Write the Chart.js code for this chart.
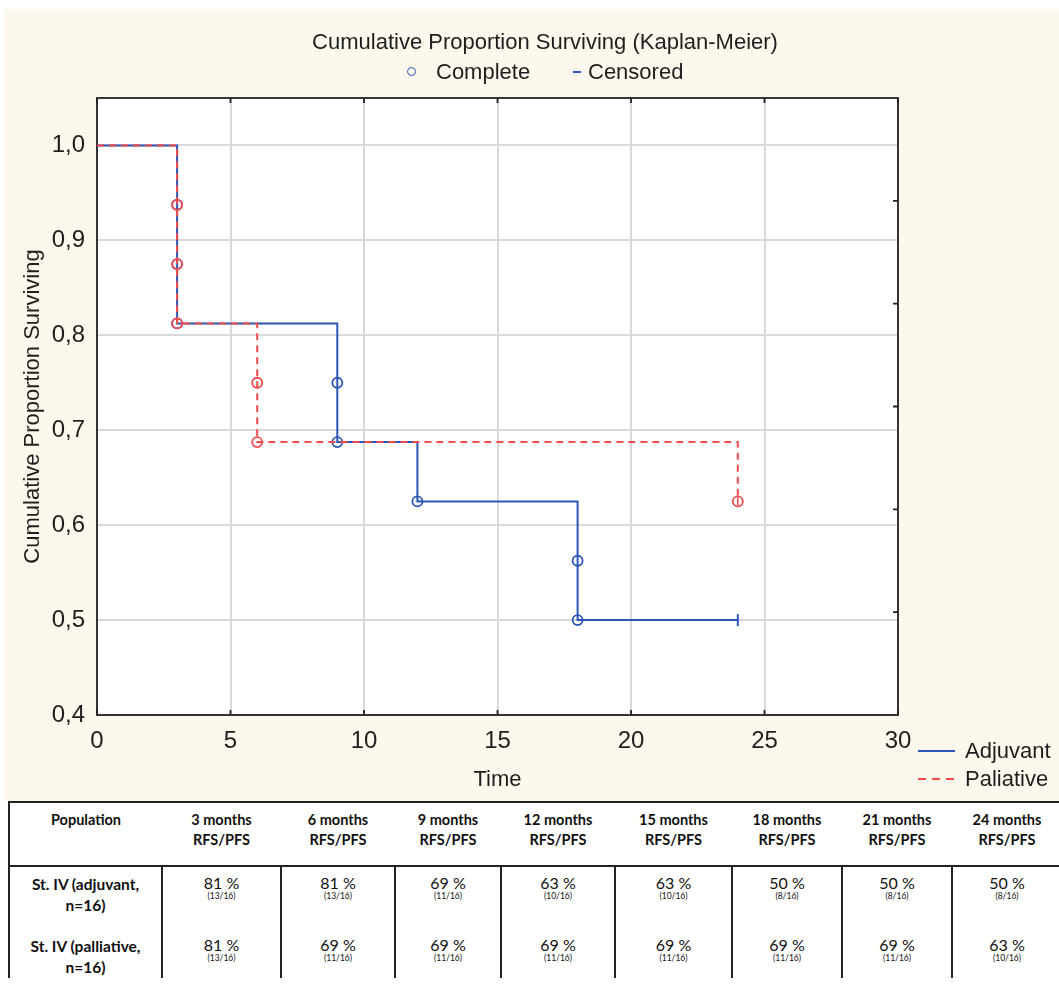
<!DOCTYPE html>
<html>
<head>
<meta charset="utf-8">
<script src="https://cdn.jsdelivr.net/npm/chart.js@4.4.1/dist/chart.umd.min.js"></script>
<style>
  body { margin: 0; background: #fff; width: 1059px; height: 989px; overflow: hidden; position: relative;
         font-family: 'Liberation Sans', Arial, sans-serif; color: #1e1e1e; }
  #panel { position: absolute; left: 4px; top: 9px; width: 1055px; height: 792px; background: #fcf8ed; }
  .lbl { position: absolute; font-size: 22px; line-height: 26px; white-space: nowrap; }
  #title { left: 545px; top: 29px; transform: translateX(-50%); }
  .circ { position: absolute; width: 9px; height: 9px; border: 1.6px solid #2c55b8; border-radius: 50%; box-sizing: border-box; }
  .bar { position: absolute; height: 2px; background: #2c55b8; }
  #tbl { position: absolute; left: 8px; top: 801px; width: 1053px; border-collapse: collapse; table-layout: fixed;
         font-family: Lato, 'Open Sans', sans-serif; color: #111; border-top: 2px solid #222; border-left: 2px solid #222; }
  #tbl th { font-weight: bold; font-size: 14.5px; line-height: 20px; vertical-align: top; text-align: center;
            height: 64px; padding: 7px 0 0 0; box-sizing: border-box; border-bottom: 2px solid #222; }
  #tbl td { border-left: 2px solid #222; border-right: 2px solid #222; text-align: center; vertical-align: top; padding: 7px 0 0 0; }
  #tbl td.pop { font-weight: bold; font-size: 15.5px; line-height: 21px; border-left: none; }
  #tbl .v { font-size: 16px; line-height: 17px; }
  #tbl .n { font-size: 8.5px; line-height: 11px; }
  #tbl tr.r1 td { height: 63px; box-sizing: border-box; }
</style>
</head>
<body>
<div id="panel"><canvas id="km" width="1055" height="792"></canvas></div>

<div class="lbl" id="title">Cumulative Proportion Surviving (Kaplan-Meier)</div>
<div class="circ" style="left:407px; top:67px;"></div>
<div class="lbl" style="left:436px; top:59px;">Complete</div>
<div class="bar" style="left:573px; top:71px; width:8px;"></div>
<div class="lbl" style="left:588px; top:59px;">Censored</div>

<div class="bar" style="left:918px; top:750px; width:37px;"></div>
<div class="lbl" style="left:965px; top:738px;">Adjuvant</div>
<svg style="position:absolute; left:918px; top:777px;" width="40" height="4">
  <line x1="0" y1="2" x2="38" y2="2" stroke="#f24b4b" stroke-width="2" stroke-dasharray="8,6"/>
</svg>
<div class="lbl" style="left:965px; top:766px;">Paliative</div>

<table id="tbl">
  <colgroup>
    <col style="width:153px"><col style="width:119px"><col style="width:114px"><col style="width:106px">
    <col style="width:114px"><col style="width:117px"><col style="width:110px"><col style="width:110px"><col style="width:110px">
  </colgroup>
  <thead><tr id="head"></tr></thead>
  <tbody id="body"></tbody>
</table>

<script>
// axis ticks
var xTicks = [0, 5, 10, 15, 20, 25, 30];
var yTicks = [0.4, 0.5, 0.6, 0.7, 0.8, 0.9, 1.0];

// survival curves (step points)
var adjTime = [0, 3, 9, 12, 18, 24];
var adjSurv = [1, 0.8125, 0.6875, 0.625, 0.5, 0.5];
var palTime = [0, 3, 6, 24];
var palSurv = [1, 0.8125, 0.6875, 0.625];

// complete events (circles)
var adjEventTime = [3, 3, 3, 9, 9, 12, 18, 18];
var adjEventSurv = [0.9375, 0.875, 0.8125, 0.75, 0.6875, 0.625, 0.5625, 0.5];
var palEventTime = [3, 3, 3, 6, 6, 24];
var palEventSurv = [0.9375, 0.875, 0.8125, 0.75, 0.6875, 0.625];

// censored
var adjCensTime = [24];
var adjCensSurv = [0.5];
var palCensTime = [24];
var palCensSurv = [0.625];

// table
var months = [3, 6, 9, 12, 15, 18, 21, 24];
var adjPct = [81, 81, 69, 63, 63, 50, 50, 50];
var adjFrac = ['13/16', '13/16', '11/16', '10/16', '10/16', '8/16', '8/16', '8/16'];
var palPct = [81, 69, 69, 69, 69, 69, 69, 63];
var palFrac = ['13/16', '11/16', '11/16', '11/16', '11/16', '11/16', '11/16', '10/16'];

var BLUE = '#2c55b8', RED = '#f24b4b';

function pts(xs, ys) {
    return xs.map(function (x, i) { return {x: x, y: ys[i]}; });
}

// white plot area, frame and the small inner ticks
var frame = {
    id: 'frame',
    beforeDraw: function (chart) {
        var a = chart.chartArea, ctx = chart.ctx;
        ctx.save();
        ctx.fillStyle = '#fff';
        ctx.fillRect(a.left, a.top, a.width, a.height);
        ctx.restore();
    },
    beforeDatasetsDraw: function (chart) {
        var a = chart.chartArea, ctx = chart.ctx, sx = chart.scales.x;
        ctx.save();
        ctx.strokeStyle = '#222';
        ctx.lineWidth = 1.8;
        ctx.strokeRect(a.left, a.top, a.width, a.height);
        ctx.beginPath();
        sx.ticks.forEach(function (t) {
            var x = sx.getPixelForValue(t.value);
            ctx.moveTo(x, a.bottom); ctx.lineTo(x, a.bottom - 5);
            ctx.moveTo(x, a.top); ctx.lineTo(x, a.top + 5);
        });
        for (var k = 1; k < 6; k++) {
            var y = a.top + a.height * k / 6;
            ctx.moveTo(a.right, y); ctx.lineTo(a.right - 5, y);
        }
        ctx.stroke();
        ctx.restore();
    }
};

var ctx = document.getElementById('km').getContext('2d');
new Chart(ctx, {
    type: 'scatter',
    data: {
        datasets: [
            {label: 'Paliative', data: pts(palTime, palSurv), showLine: true, stepped: true,
             borderColor: RED, borderWidth: 2, borderDash: [7, 5], pointRadius: 0, order: 0},
            {label: 'Paliative complete', data: pts(palEventTime, palEventSurv), pointStyle: 'circle',
             pointRadius: 5, borderWidth: 1.8, borderColor: RED, backgroundColor: 'rgba(0,0,0,0)', order: 0},
            {label: 'Paliative censored', data: pts(palCensTime, palCensSurv), pointStyle: 'line', rotation: 90,
             pointRadius: 4, borderWidth: 1.5, borderColor: RED, order: 0},
            {label: 'Adjuvant', data: pts(adjTime, adjSurv), showLine: true, stepped: true,
             borderColor: BLUE, borderWidth: 2, pointRadius: 0, order: 1},
            {label: 'Adjuvant complete', data: pts(adjEventTime, adjEventSurv), pointStyle: 'circle',
             pointRadius: 5, borderWidth: 1.8, borderColor: BLUE, backgroundColor: 'rgba(0,0,0,0)', order: 1},
            {label: 'Adjuvant censored', data: pts(adjCensTime, adjCensSurv), pointStyle: 'line', rotation: 90,
             pointRadius: 6, borderWidth: 2, borderColor: BLUE, order: 1}
        ]
    },
    options: {
        responsive: false,
        animation: false,
        devicePixelRatio: 1,
        events: [],
        layout: {padding: {top: 89, right: 161, left: 0, bottom: 0}},
        plugins: {legend: {display: false}, tooltip: {enabled: false}},
        scales: {
            x: {
                type: 'linear', min: 0, max: 30,
                afterBuildTicks: function (s) { s.ticks = xTicks.map(function (v) { return {value: v}; }); },
                afterFit: function (s) { s.height = 86; },
                grid: {color: '#d9d9d9', lineWidth: 2, drawTicks: false},
                border: {display: false},
                ticks: {color: '#1e1e1e', padding: 12, maxRotation: 0, font: {family: "'Liberation Sans', Arial", size: 24}},
                title: {display: true, text: 'Time', color: '#1e1e1e', padding: {top: 0, bottom: 8},
                        font: {family: "'Liberation Sans', Arial", size: 22}}
            },
            y: {
                type: 'linear', min: 0.4, max: 1.05,
                afterBuildTicks: function (s) { s.ticks = yTicks.map(function (v) { return {value: v}; }); },
                afterFit: function (s) { s.width = 93; },
                grid: {color: '#d9d9d9', lineWidth: 2, drawTicks: false},
                border: {display: false},
                ticks: {color: '#1e1e1e', padding: 12, font: {family: "'Liberation Sans', Arial", size: 24},
                        callback: function (v) { return v.toFixed(1).replace('.', ','); }},
                title: {display: true, text: 'Cumulative Proportion Surviving', color: '#1e1e1e',
                        padding: {top: 16, bottom: 0}, font: {family: "'Liberation Sans', Arial", size: 22}}
            }
        }
    },
    plugins: [frame]
});

// table
var head = document.getElementById('head');
var h = '<th>Population</th>';
months.forEach(function (m) { h += '<th>' + m + ' months<br>RFS/PFS</th>'; });
head.innerHTML = h;

function row(cls, name, pct, frac) {
    var r = '<tr class="' + cls + '"><td class="pop">' + name + '</td>';
    pct.forEach(function (p, i) {
        r += '<td><div class="v">' + p + ' %</div><div class="n">(' + frac[i] + ')</div></td>';
    });
    return r + '</tr>';
}
document.getElementById('body').innerHTML =
    row('r1', 'St. IV (adjuvant,<br>n=16)', adjPct, adjFrac) +
    row('r2', 'St. IV (palliative,<br>n=16)', palPct, palFrac);
</script>
</body>
</html>
